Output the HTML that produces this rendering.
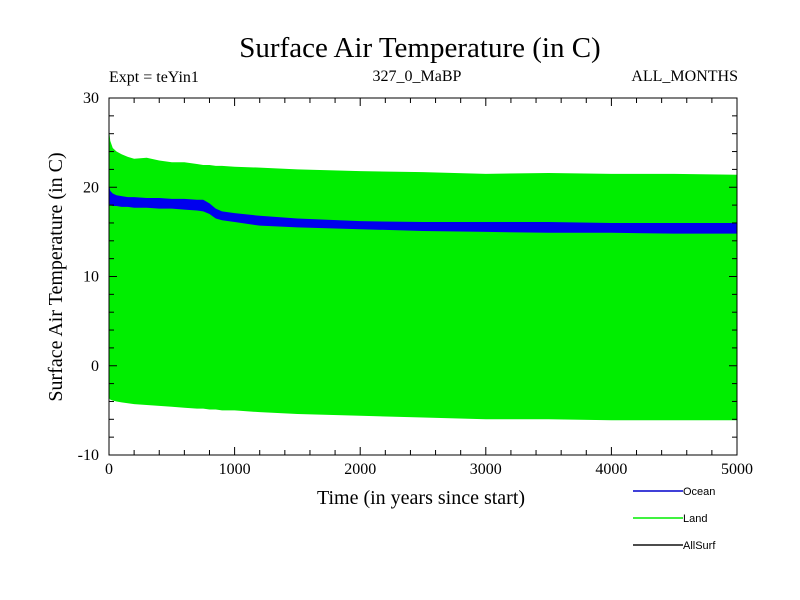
<!DOCTYPE html>
<html><head><meta charset="utf-8"><style>
body{margin:0;background:#fff;}
svg{display:block;font-family:"Liberation Serif",serif;}
</style></head><body>
<svg id="c" width="800" height="600">
<text x="420" y="57" font-size="29" text-anchor="middle">Surface Air Temperature (in C)</text>
<text x="109" y="82" font-size="16">Expt = teYin1</text>
<text x="417" y="81" font-size="16" text-anchor="middle">327_0_MaBP</text>
<text x="738" y="81" font-size="16" text-anchor="end">ALL_MONTHS</text>
<g id="plot"></g>
<text x="421" y="504" font-size="20" text-anchor="middle">Time (in years since start)</text>
<text transform="translate(62,277) rotate(-90)" font-size="20" text-anchor="middle">Surface Air Temperature (in C)</text>
<g font-family="Liberation Sans,sans-serif" font-size="11">
<line x1="633" y1="491" x2="683" y2="491" stroke="#0000cc" stroke-width="1.5"/>
<text x="683" y="495">Ocean</text>
<line x1="633" y1="518" x2="683" y2="518" stroke="#00ee00" stroke-width="1.5"/>
<text x="683" y="522">Land</text>
<line x1="633" y1="545" x2="683" y2="545" stroke="#111" stroke-width="1.5"/>
<text x="683" y="549">AllSurf</text>
</g>
</svg>
<script>
const years=[0,10,30,60,100,150,200,300,400,500,600,700,750,800,850,900,1000,1200,1500,2000,2500,3000,3500,4000,4500,5000];
const landHigh=[26.6,25.2,24.4,24.0,23.7,23.4,23.2,23.3,23.0,22.8,22.8,22.6,22.5,22.5,22.4,22.4,22.3,22.2,22.0,21.8,21.7,21.5,21.6,21.5,21.5,21.4];
const landLow=[-3.6,-3.8,-3.9,-4.0,-4.1,-4.2,-4.3,-4.4,-4.5,-4.6,-4.7,-4.8,-4.8,-4.9,-4.9,-5.0,-5.0,-5.2,-5.4,-5.6,-5.8,-6.0,-6.0,-6.1,-6.1,-6.1];
const oceanHigh=[20.4,19.6,19.3,19.1,19.0,18.9,18.9,18.8,18.8,18.7,18.7,18.6,18.6,18.2,17.6,17.3,17.1,16.8,16.5,16.2,16.1,16.1,16.1,16.0,16.0,16.0];
const oceanLow=[18.2,18.0,17.9,17.9,17.8,17.8,17.7,17.7,17.6,17.6,17.5,17.4,17.3,17.0,16.5,16.3,16.1,15.7,15.5,15.3,15.1,15.0,14.9,14.9,14.8,14.8];
const xTicks=[0,1000,2000,3000,4000,5000];
const yTicks=[-10,0,10,20,30];
const X0=109,X1=737,Y0=455,Y1=98;
const xs=v=>X0+(v/5000)*(X1-X0);
const ys=v=>Y0-((v+10)/40)*(Y0-Y1);
const NS="http://www.w3.org/2000/svg";
const g=document.getElementById('plot');
function mk(t,a){const e=document.createElementNS(NS,t);for(const k in a)e.setAttribute(k,a[k]);g.appendChild(e);return e;}
function band(hi,lo,col){let pts=[];for(let i=0;i<years.length;i++)pts.push(xs(years[i])+','+ys(hi[i]));for(let i=years.length-1;i>=0;i--)pts.push(xs(years[i])+','+ys(lo[i]));return mk('polygon',{points:pts.join(' '),fill:col});}
const land=band(landHigh,landLow,'#00ee00');


const ocean=band(oceanHigh,oceanLow,'#0000ee');


const fr=mk('rect',{x:X0,y:Y1,width:X1-X0,height:Y0-Y1,fill:'none',stroke:'#000','stroke-width':1});


for(let v=0;v<=5000;v+=200){const x=xs(v),L=(v%1000===0)?8:5;mk('line',{x1:x,y1:Y0,x2:x,y2:Y0-L,stroke:'#000'});mk('line',{x1:x,y1:Y1,x2:x,y2:Y1+L,stroke:'#000'});}
for(let v=-10;v<=30;v+=2){const y=ys(v),L=(v%10===0)?8:5;mk('line',{x1:X0,y1:y,x2:X0+L,y2:y,stroke:'#000'});mk('line',{x1:X1,y1:y,x2:X1-L,y2:y,stroke:'#000'});}
xTicks.forEach(v=>{const t=mk('text',{x:xs(v),y:Y0+19,'font-size':16,'text-anchor':'middle'});t.textContent=v;

});
yTicks.forEach(v=>{const t=mk('text',{x:X0-10,y:ys(v)+5,'font-size':16,'text-anchor':'end'});t.textContent=v;

});
</script>
</body></html>
